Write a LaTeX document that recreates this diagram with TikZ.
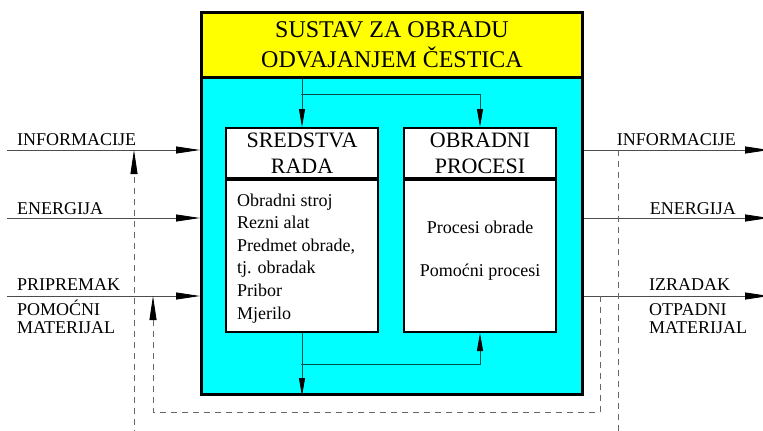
\documentclass[tikz,border=0pt]{standalone}
\usepackage{fontspec}
\setmainfont{Liberation Serif}
\usetikzlibrary{arrows.meta}
\definecolor{tirkiz}{RGB}{0,255,255}
\definecolor{zuta}{RGB}{255,255,0}
\definecolor{tamna}{RGB}{0,80,80}

\begin{document}
\begin{tikzpicture}[x=1pt,y=-1pt]
\tikzstyle{every node}=[font=\fontsize{18}{22}\selectfont, inner sep=0pt]
\tikzstyle{okvir}=[draw, line width=2pt, fill=white, minimum width=152pt]
\tikzstyle{ulaz}=[draw=black!70, line width=0.8pt, -{Triangle[length=24pt,width=7pt,black]}]
\tikzstyle{veza}=[draw=tamna, line width=0.8pt, -{Triangle[length=18pt,width=6pt,black]}]
\tikzstyle{povrat}=[draw=black!60, line width=0.8pt, dash pattern=on 6pt off 5pt]
\tikzstyle{oznaka}=[anchor=base west]

\useasboundingbox (0,0) rectangle (763,431);

% sustav
\node[draw, line width=3pt, fill=tirkiz, minimum width=381pt, minimum height=382pt, anchor=north west] (sustav) at (200,11) {};
\node[draw, line width=3pt, fill=zuta, minimum width=381pt, minimum height=65pt, anchor=north west,
      align=center, font=\fontsize{24}{30}\selectfont] (naslov) at (200,11) {SUSTAV ZA OBRADU\\ODVAJANJEM ČESTICA};

% sredstva rada
\node[okvir, minimum height=50pt, anchor=north west, align=center, font=\fontsize{22}{26}\selectfont] (sr) at (225,127) {SREDSTVA\\RADA};
\node[okvir, minimum height=152pt, anchor=north] (srt) at (sr.south) {};
\node[anchor=base west, align=left, font=\fontsize{18}{22.6}\selectfont] (srl) at (237,319)
  {Obradni stroj\\Rezni alat\\Predmet obrade,\\tj. obradak\\Pribor\\Mjerilo};

% obradni procesi
\node[okvir, minimum height=50pt, anchor=north west, align=center, font=\fontsize{22}{26}\selectfont] (op) at (403,127) {OBRADNI\\PROCESI};
\node[okvir, minimum height=152pt, anchor=north] (opt) at (op.south) {};
\node[anchor=base, align=center] (opl) at (opt.center |- 0,276) {Procesi obrade\\[21pt]Pomoćni procesi};

% veze unutar sustava
\coordinate (gore) at (301,94);
\coordinate (dolje) at (301,364);
\draw[veza] (naslov.south -| sr.north) -- (sr.north);
\draw[veza] (gore) -| (op.north);
\draw[veza] (srt.south) -- (srt.south |- sustav.south);
\draw[veza] (dolje) -| (opt.south);

% ulazi
\coordinate (u1) at (7,150);
\coordinate (u2) at (7,218);
\coordinate (u3) at (7,296);
\draw[ulaz] (u1) -- (u1 -| sustav.west);
\draw[ulaz] (u2) -- (u2 -| sustav.west);
\draw[ulaz] (u3) -- (u3 -| sustav.west);
\node[oznaka] (ui) at (17,145) {INFORMACIJE};
\node[oznaka] (ue) at (17,214) {ENERGIJA};
\node[oznaka] (up) at (17,290) {PRIPREMAK};
\node[oznaka] (um) at (17,315) {POMOĆNI};
\node[oznaka] (umm) at (17,333) {MATERIJAL};

% izlazi
\coordinate (i1) at (769,150);
\coordinate (i2) at (769,218);
\coordinate (i3) at (769,296);
\draw[ulaz] (i1 -| sustav.east) -- (i1);
\draw[ulaz] (i2 -| sustav.east) -- (i2);
\draw[ulaz] (i3 -| sustav.east) -- (i3);
\node[anchor=base east] (ii) at (736,145) {INFORMACIJE};
\node[anchor=base east] (ie) at (736,214) {ENERGIJA};
\node[oznaka] (iz) at (649,290) {IZRADAK};
\node[oznaka] (io) at (649,315) {OTPADNI};
\node[oznaka] (im) at (649,333) {MATERIJAL};

% povratne veze
\coordinate (p1) at (134,436);
\coordinate (p2) at (618,436);
\coordinate (p3) at (600,412);
\coordinate (p4) at (153,412);
\draw[povrat, -{Triangle[length=24pt,width=7pt,black]}] (p1) -- (p1 |- u1);
\draw[povrat] (p2 |- i1) -- (p2);
\draw[povrat, -{Triangle[length=24pt,width=7pt,black]}] (p3 |- i3) -- (p3) -- (p4) -- (p4 |- u3);
\end{tikzpicture}
\end{document}
